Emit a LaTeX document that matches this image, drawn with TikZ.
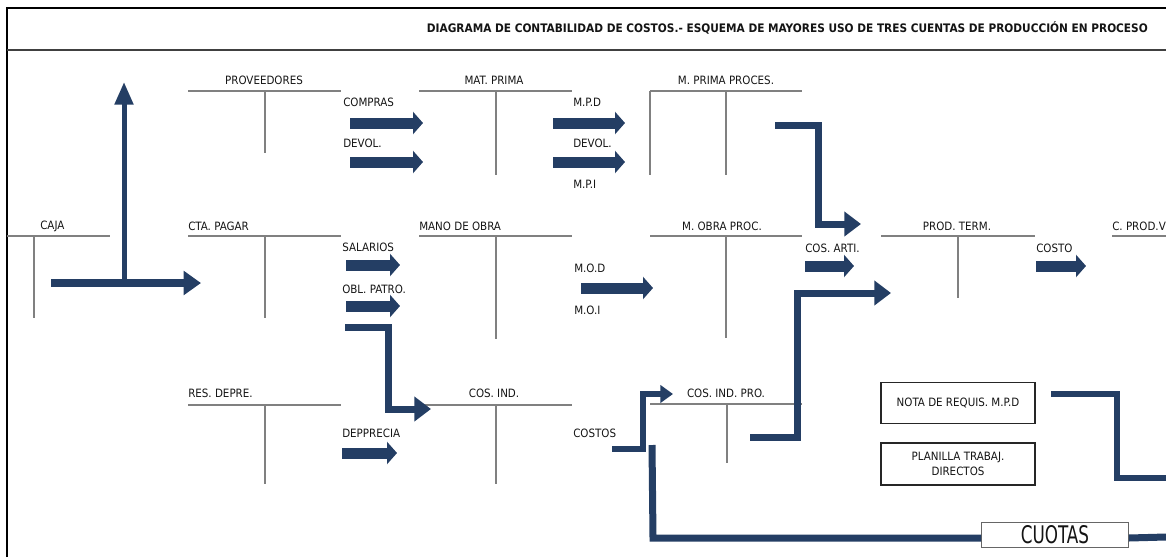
\documentclass[tikz,border=0pt]{standalone}
\usepackage{fontspec}
\setmainfont{DejaVu Sans Condensed}
\usetikzlibrary{arrows.meta}
\definecolor{navy}{RGB}{36,62,100}
\definecolor{tgray}{RGB}{128,128,128}
\definecolor{ink}{RGB}{20,20,20}
\tikzset{
  lbl/.style={inner sep=0pt, text=ink, font=\fontsize{8.6}{10}\selectfont},
  hline/.style={draw=tgray, line width=1.5pt},
  vline/.style={draw=tgray, line width=0.8pt},
  blk/.style={draw=navy, line width=8.25pt, -{Triangle[length=7.5pt,width=16.5pt]}, shorten <=0pt},
  elbow/.style={draw=navy, line width=5.25pt, line join=miter},
  elbowarrow/.style={elbow, -{Triangle[length=12.5pt,width=18pt]}},
  docbox/.style={draw=black!85, line width=0.8pt, fill=white, inner sep=0pt, align=center, text=ink, font=\fontsize{8.6}{11}\selectfont},
}
\begin{document}
\begin{tikzpicture}[x=0.75pt,y=-0.75pt]
\useasboundingbox (0,0) rectangle (1166,557);
% frame
\draw[line width=1.6pt] (7,557) -- (7,8) -- (1166,8);
\draw[line width=2.2pt, draw=black!75] (7,50) -- (1166,50);
\node[anchor=east, inner sep=0pt, text=ink, font=\bfseries\fontsize{8.8}{10}\selectfont] (title) at (1148,28)
  {DIAGRAMA DE CONTABILIDAD DE COSTOS.- ESQUEMA DE MAYORES USO DE TRES CUENTAS DE PRODUCCIÓN EN PROCESO};

% ---------- T accounts ----------
% row 1
\draw[hline] (188,91) -- (341,91); \draw[vline] (265,91) -- (265,153);
\node[lbl] (prov) at (264,80) {PROVEEDORES};
\draw[hline] (419,91) -- (572,91); \draw[vline] (496,91) -- (496,175);
\node[lbl] (matp) at (494,80) {MAT. PRIMA};
\draw[hline] (650,91) -- (802,91); \draw[vline] (650,91) -- (650,175); \draw[vline] (726,91) -- (726,175);
\node[lbl] (mpp) at (726,80) {M. PRIMA PROCES.};
% row 2
\draw[hline] (7,236) -- (110,236); \draw[vline] (34,236) -- (34,318);
\node[lbl, anchor=west] (caja) at (40,226) {CAJA};
\draw[hline] (188,236) -- (341,236); \draw[vline] (265,236) -- (265,318);
\node[lbl, anchor=west] (ctap) at (188,226) {CTA. PAGAR};
\draw[hline] (419,236) -- (572,236); \draw[vline] (496,236) -- (496,339);
\node[lbl, anchor=west] (mano) at (419,226) {MANO DE OBRA};
\draw[hline] (650,236) -- (802,236); \draw[vline] (726,236) -- (726,338);
\node[lbl] (mop) at (722,226) {M. OBRA PROC.};
\draw[hline] (881,236) -- (1035,236); \draw[vline] (958,236) -- (958,298);
\node[lbl] (pt) at (957,226) {PROD. TERM.};
\draw[hline] (1112,236) -- (1166,236);
\node[lbl, anchor=west] (cpv) at (1112,226) {C. PROD.V};
% row 3
\draw[hline] (188,405) -- (341,405); \draw[vline] (265,405) -- (265,484);
\node[lbl, anchor=west] (resd) at (188,393) {RES. DEPRE.};
\draw[hline] (419,405) -- (572,405); \draw[vline] (496,405) -- (496,484);
\node[lbl] (cosind) at (494,393) {COS. IND.};
\draw[hline] (650,404) -- (802,404); \draw[vline] (727,404) -- (727,463);
\node[lbl] (cip) at (726,393) {COS. IND. PRO.};

% ---------- flow labels ----------
\node[lbl, anchor=west] (compras) at (343,102) {COMPRAS};
\node[lbl, anchor=west] (devol1) at (343,143) {DEVOL.};
\node[lbl, anchor=west] (mpd) at (573,102) {M.P.D};
\node[lbl, anchor=west] (devol2) at (573,143) {DEVOL.};
\node[lbl, anchor=west] (mpi) at (573,184) {M.P.I};
\node[lbl, anchor=west] (sal) at (342,247) {SALARIOS};
\node[lbl, anchor=west] (obl) at (342,289) {OBL. PATRO.};
\node[lbl, anchor=west] (mod) at (574,268) {M.O.D};
\node[lbl, anchor=west] (moi) at (574,310) {M.O.I};
\node[lbl, anchor=west] (cosarti) at (805,248) {COS. ARTI.};
\node[lbl, anchor=west] (costo) at (1036,248) {COSTO};
\node[lbl, anchor=west] (depr) at (342,433) {DEPPRECIA};
\node[lbl, anchor=west] (costos) at (573,433) {COSTOS};

% ---------- block arrows ----------
\coordinate (a1s) at (350,123); \coordinate (a1e) at (423,123);
\coordinate (a2s) at (350,162); \coordinate (a2e) at (423,162);
\coordinate (a3s) at (553,123); \coordinate (a3e) at (625,123);
\coordinate (a4s) at (553,162); \coordinate (a4e) at (625,162);
\coordinate (a5s) at (346,265); \coordinate (a5e) at (400,265);
\coordinate (a6s) at (346,306); \coordinate (a6e) at (400,306);
\coordinate (a7s) at (581,288); \coordinate (a7e) at (653,288);
\coordinate (a8s) at (805,266); \coordinate (a8e) at (854,266);
\coordinate (a9s) at (1036,266); \coordinate (a9e) at (1086,266);
\coordinate (a10s) at (342,453); \coordinate (a10e) at (397,453);
\foreach \i in {1,...,10} { \draw[blk] (a\i s) -- (a\i e); }

% ---------- CAJA arrows ----------
\coordinate (cajas) at (51,283);
\coordinate (cajae) at (201,283);
\coordinate (cajaj) at (124,283);
\coordinate (cajau) at (124,82);
\draw[draw=navy, line width=6.5pt, -{Triangle[length=13pt,width=17.5pt]}] (cajas) -- (cajae);
\draw[draw=navy, line width=3.75pt, -{Triangle[length=17pt,width=13.5pt]}] (cajaj) -- (cajau);

% ---------- elbow connectors ----------
\coordinate (e1s) at (775,125); \coordinate (e1e) at (861,224);
\draw[elbowarrow] (e1s) -- (818,125) -- (818,224) -- (e1e);

\coordinate (e2s) at (345,327); \coordinate (e2e) at (431,409);
\draw[elbowarrow] (e2s) -- (388,327) -- (388,409) -- (e2e);

\coordinate (e3s) at (750,437); \coordinate (e3e) at (891,293);
\draw[elbowarrow] (e3s) -- (797,437) -- (797,293) -- (e3e);

\coordinate (e4s) at (612,449); \coordinate (e4e) at (673,394);
\draw[elbow, line width=4.5pt, -{Triangle[length=9.5pt,width=13pt]}] (e4s) -- (643,449) -- (643,394) -- (e4e);

% ---------- boxes ----------
\node[docbox, minimum width=115.5pt, minimum height=31pt] (nota) at (958,403) {NOTA DE REQUIS. M.P.D};
\node[docbox, minimum width=115.5pt, minimum height=31.5pt] (plan) at (958,464) {PLANILLA TRABAJ.\\DIRECTOS};
\node[docbox, draw=black!60, minimum width=110pt, minimum height=19pt, font=\fontsize{14}{14}\selectfont] (cuotas) at (1055,535) {\scalebox{1}[1.3]{CUOTAS}};

\coordinate (bl) at (652,445);
\coordinate (rend1) at (1166,537);
\draw[elbow] (bl) -- (653,538) -- (cuotas.west |- 0,538);
\draw[elbow] (cuotas.east |- 0,538) -- (rend1);

\coordinate (nr) at (1051,394);
\coordinate (rend2) at (1166,478);
\draw[elbow, line width=4.5pt] (nr) -- (1117,394) -- (1117,478) -- (rend2);
\end{tikzpicture}
\end{document}
